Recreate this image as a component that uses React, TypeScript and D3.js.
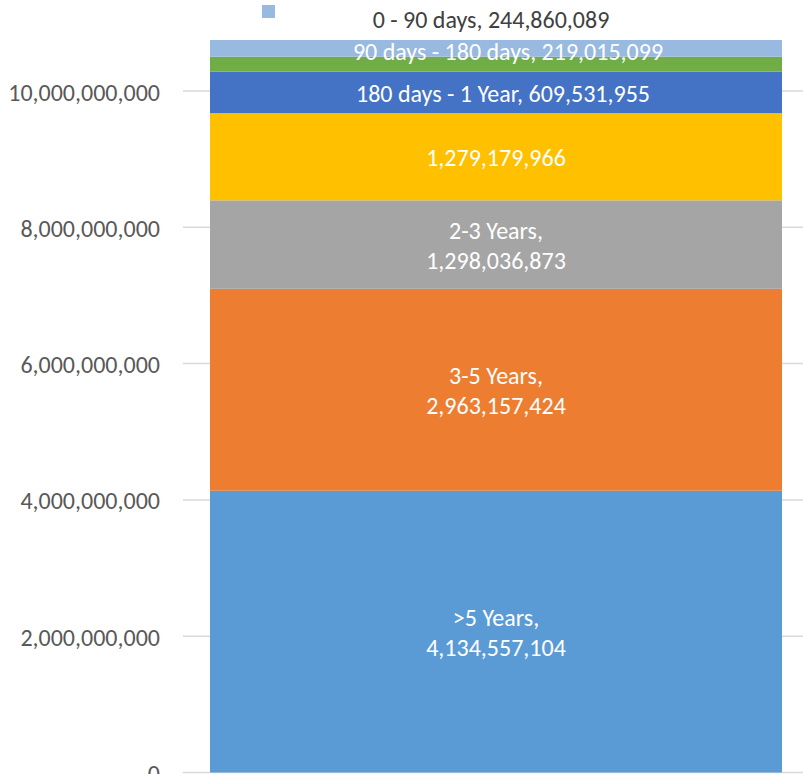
import React from 'react';
import * as d3 from 'd3';

const categories = [
  '>5 Years',
  '3-5 Years',
  '2-3 Years',
  '1-2 Years',
  '180 days - 1 Year',
  '90 days - 180 days',
  '0 - 90 days',
];
const values = [4134557104, 2963157424, 1298036873, 1279179966, 609531955, 219015099, 244860089];
const colors = ['#5b9bd5', '#ed7d31', '#a5a5a5', '#ffc000', '#4472c4', '#70ad47', '#98b9e0'];
const tickValues = [0, 2e9, 4e9, 6e9, 8e9, 10e9];

const fmt = d3.format(',');

export default function App() {
  const width = 803;
  const height = 774;
  const font = "Carlito, Calibri, 'Liberation Sans Narrow', 'Liberation Sans', sans-serif";
  const fs = 24;

  const y = d3.scaleLinear().domain([0, 10e9]).range([772.5, 91]);
  const x0 = 210;
  const x1 = 782;
  const cx = (x0 + x1) / 2;

  let acc = 0;
  const segs = values.map((v, i) => {
    const s = { name: categories[i], v, lo: acc, hi: acc + v, color: colors[i] };
    acc += v;
    return s;
  });

  const labelFor = (s: any, i: number) => {
    const mid = (y(s.lo) + y(s.hi)) / 2;
    const props = { x: cx, textAnchor: 'middle' as const, dominantBaseline: 'central' as const, fill: '#fff', fontSize: fs };
    if (i <= 2) {
      return (
        <g key={'l' + i}>
          <text {...props} y={mid - 14}>{s.name},</text>
          <text {...props} y={mid + 16}>{fmt(s.v)}</text>
        </g>
      );
    }
    if (i === 3) return <text key={'l' + i} {...props} y={mid + 1}>{fmt(s.v)}</text>;
    if (i === 4) return <text key={'l' + i} {...props} x={cx + 7} y={mid + 1}>{s.name}, {fmt(s.v)}</text>;
    if (i === 5) return <text key={'l' + i} {...props} x={cx + 12} y={y(s.hi) - 5}>{s.name}, {fmt(s.v)}</text>;
    return (
      <g key={'l' + i}>
        <rect x={262} y={5} width={13} height={13} fill={s.color} />
        <text {...props} x={cx - 5} fill="#404040" y={y(s.hi) - 21}>{s.name}, {fmt(s.v)}</text>
      </g>
    );
  };

  return (
    <svg width={width} height={height} style={{ position: 'absolute', left: 0, top: 0 }} fontFamily={font}>
      <rect width={width} height={height} fill="#fff" />
      <g>
        {tickValues.map((t) => (
          <g key={t}>
            <line x1={183} x2={803} y1={y(t)} y2={y(t)} stroke="#d9d9d9" strokeWidth={1.5} />
            <text x={160} y={y(t) + 1} textAnchor="end" dominantBaseline="central" fill="#595959" fontSize={fs}>
              {fmt(t)}
            </text>
          </g>
        ))}
      </g>
      <g>
        {segs.map((s, i) => (
          <rect key={i} x={x0} width={x1 - x0} y={y(s.hi)} height={y(s.lo) - y(s.hi)} fill={s.color} />
        ))}
      </g>
      <g>{segs.map((s, i) => labelFor(s, i))}</g>
    </svg>
  );
}
